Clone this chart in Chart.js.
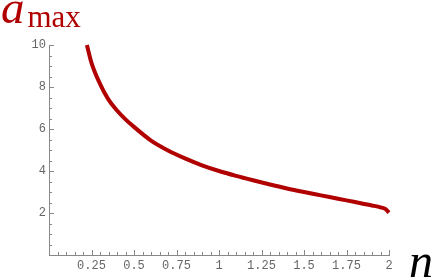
<!DOCTYPE html>
<html>
<head>
    <title>a_max vs n</title>
    <script src="https://cdn.jsdelivr.net/npm/chart.js"></script>
    <style>
        body {
            margin: 0;
            background: #fff;
        }
        .wrap {
            position: relative;
            width: 436px;
            height: 277px;
        }
        .lbl {
            position: absolute;
            font-family: "Liberation Serif", serif;
            font-style: italic;
            line-height: 1;
            white-space: nowrap;
        }
        #ylabel {
            left: 1px;
            top: -16px;
            color: #b00000;
            font-size: 47px;
        }
        #ylabel span {
            font-style: normal;
            font-size: 31px;
            margin-left: 3px;
            position: relative;
            top: 4px;
        }
        #xlabel {
            left: 409px;
            top: 237px;
            color: #000;
            font-size: 48px;
        }
    </style>
</head>
<body>
    <div class="wrap">
        <canvas id="chart" width="436" height="277"></canvas>
        <div class="lbl" id="ylabel">a<span>max</span></div>
        <div class="lbl" id="xlabel">n</div>
    </div>
    <script>
        // values
        var nValues = [0.223, 0.25, 0.3, 0.35, 0.4, 0.45, 0.5, 0.6, 0.7, 0.8, 0.9, 1.0,
                       1.1, 1.2, 1.3, 1.4, 1.5, 1.6, 1.7, 1.8, 1.9, 1.95, 1.98, 2.0];
        var aMax = [10, 9.15, 8.15, 7.4, 6.88, 6.46, 6.1, 5.45, 4.98, 4.6, 4.27, 4.0,
                    3.77, 3.56, 3.36, 3.17, 3.0, 2.84, 2.68, 2.52, 2.36, 2.27, 2.18, 2.02];
        var xTicks = [0.25, 0.5, 0.75, 1, 1.25, 1.5, 1.75, 2];
        var yTicks = [2, 4, 6, 8, 10];

        var axisColor = '#888';
        var tickFont = { family: '"Liberation Mono", monospace', size: 12 };

        // Mathematica-style ticks drawn inward, with minor ones
        var innerTicks = {
            id: 'innerTicks',
            beforeDatasetsDraw: function(chart) {
                var ctx = chart.ctx;
                var xs = chart.scales.x, ys = chart.scales.y;
                var area = chart.chartArea;
                ctx.save();
                ctx.strokeStyle = axisColor;
                ctx.lineWidth = 1;
                ctx.beginPath();
                for (var i = 1; i <= 40; i++) {
                    var px = Math.round(xs.getPixelForValue(i * 0.05)) + 0.5;
                    var len = (i % 5 === 0) ? 5 : 3;
                    ctx.moveTo(px, area.bottom);
                    ctx.lineTo(px, area.bottom - len);
                }
                for (var j = 1; j <= 20; j++) {
                    var py = Math.round(ys.getPixelForValue(j * 0.5)) + 0.5;
                    var l2 = (j % 4 === 0) ? 5 : 3;
                    ctx.moveTo(area.left, py);
                    ctx.lineTo(area.left + l2, py);
                }
                ctx.stroke();
                ctx.restore();
            }
        };

        var points = nValues.map(function(n, i) { return { x: n, y: aMax[i] }; });

        var ctx = document.getElementById('chart').getContext('2d');
        var chart = new Chart(ctx, {
            type: 'line',
            data: {
                datasets: [{
                    data: points,
                    borderColor: '#b00000',
                    borderWidth: 4,
                    pointRadius: 0,
                    cubicInterpolationMode: 'monotone',
                    fill: false,
                    clip: false
                }]
            },
            options: {
                responsive: false,
                animation: false,
                layout: { padding: { top: 45, right: 47, left: 0, bottom: 0 } },
                plugins: {
                    legend: { display: false },
                    tooltip: { enabled: false }
                },
                scales: {
                    x: {
                        type: 'linear',
                        min: 0,
                        max: 2,
                        afterFit: function(s) { s.height = 22; },
                        afterBuildTicks: function(s) {
                            s.ticks = xTicks.map(function(v) { return { value: v }; });
                        },
                        grid: { display: false, drawTicks: false },
                        border: { display: true, color: axisColor, width: 1 },
                        ticks: {
                            padding: 4,
                            color: '#666',
                            font: tickFont,
                            maxRotation: 0,
                            autoSkip: false,
                            callback: function(v) { return String(v); }
                        }
                    },
                    y: {
                        min: 0,
                        max: 10,
                        afterFit: function(s) { s.width = 49; },
                        afterBuildTicks: function(s) {
                            s.ticks = yTicks.map(function(v) { return { value: v }; });
                        },
                        grid: { display: false, drawTicks: false },
                        border: { display: true, color: axisColor, width: 1 },
                        ticks: {
                            padding: 3,
                            color: '#666',
                            font: tickFont,
                            autoSkip: false,
                            callback: function(v) { return String(v); }
                        }
                    }
                }
            },
            plugins: [innerTicks]
        });
    </script>
</body>
</html>
